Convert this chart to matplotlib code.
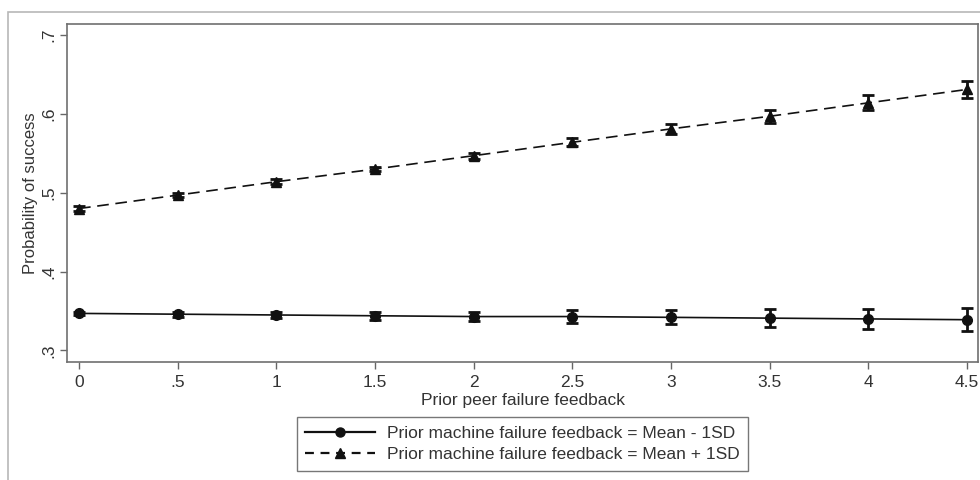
import matplotlib
matplotlib.use("Agg")
import matplotlib.pyplot as plt
from matplotlib.patches import Rectangle
from matplotlib.lines import Line2D

plt.rcParams['font.family'] = ['Liberation Sans', 'DejaVu Sans']

x = [0, 0.5, 1, 1.5, 2, 2.5, 3, 3.5, 4, 4.5]
low_y = [0.347, 0.346, 0.345, 0.344, 0.343, 0.343, 0.342, 0.341, 0.340, 0.339]
low_err = [0.002, 0.003, 0.004, 0.005, 0.006, 0.008, 0.009, 0.0115, 0.013, 0.0148]
high_y = [0.480, 0.497, 0.514, 0.530, 0.547, 0.564, 0.581, 0.597, 0.614, 0.631]
high_err = [0.003, 0.003, 0.003, 0.003, 0.004, 0.005, 0.006, 0.008, 0.0095, 0.011]
xticks = [0, 0.5, 1, 1.5, 2, 2.5, 3, 3.5, 4, 4.5]
xticklabels = ['0', '.5', '1', '1.5', '2', '2.5', '3', '3.5', '4', '4.5']
yticks = [0.3, 0.4, 0.5, 0.6, 0.7]
yticklabels = ['.3', '.4', '.5', '.6', '.7']
labels = ['Prior machine failure feedback = Mean - 1SD',
          'Prior machine failure feedback = Mean + 1SD']

fig = plt.figure(figsize=(9.8, 4.8), dpi=100)
fig.patches.append(Rectangle((8 / 980, -0.1), 1.2, 1 - 12 / 480 + 0.1,
                             transform=fig.transFigure, fill=False,
                             edgecolor='#b8b8b8', linewidth=1.2))
ax = fig.add_axes([67 / 980, (480 - 361.5) / 480, (978 - 67) / 980, (361.5 - 24) / 480])

col = '#111111'
ax.errorbar(x, low_y, yerr=low_err, fmt='-', marker='o', color=col, markersize=7,
            linewidth=1.2, elinewidth=2, capsize=4.5, capthick=2)
ax.errorbar(x, high_y, yerr=high_err, fmt='--', marker='^', color=col, markersize=7,
            linewidth=1.2, elinewidth=2, capsize=4.5, capthick=2, dashes=(7, 4))

ax.set_xlim(-0.061, 4.556)
ax.set_ylim(0.286, 0.714)
ax.set_xticks(xticks)
ax.set_xticklabels(xticklabels, fontsize=12.5, color='#333333')
ax.set_yticks(yticks)
ax.set_yticklabels(yticklabels, fontsize=12.5, color='#333333', rotation=90, va='center')
ax.tick_params(axis='both', length=5, color='#666666', width=1, pad=3)
ax.tick_params(axis='x', pad=5)
for s in ax.spines.values():
    s.set_color('#707070')
    s.set_linewidth(1.2)
ax.set_xlabel('Prior peer failure feedback', fontsize=12.5, color='#333333', labelpad=2)
ax.set_ylabel('Probability of success', fontsize=12, color='#333333', labelpad=2)

h1 = Line2D([], [], color=col, linestyle='-', marker='o', markersize=6.5, linewidth=1.6)
h2 = Line2D([], [], color=col, linestyle='--', marker='^', markersize=6.5, linewidth=1.6, dashes=(4, 3))
leg = fig.legend([h1, h2], labels, loc='center', bbox_to_anchor=(522.5 / 980, 1 - 444 / 480),
                 fontsize=12.5, frameon=True, fancybox=False, edgecolor='#555555',
                 handlelength=4.0, handletextpad=0.7, borderpad=0.5, labelspacing=0.35,
                 borderaxespad=0)
leg.get_frame().set_linewidth(1.0)
for t in leg.get_texts():
    t.set_color('#333333')

fig.savefig('out.png', dpi=100)
